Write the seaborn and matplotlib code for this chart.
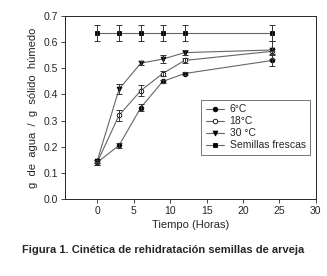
import numpy as np
import pandas as pd
import matplotlib
matplotlib.use("Agg")
import matplotlib.pyplot as plt
import seaborn as sns

# datos
horas = [0, 3, 6, 9, 12, 24]
t6 = [0.14, 0.205, 0.35, 0.45, 0.48, 0.53]
t6_err = [0.01, 0.01, 0.015, 0.006, 0.006, 0.02]
t18 = [0.14, 0.32, 0.415, 0.48, 0.53, 0.565]
t18_err = [0.01, 0.02, 0.02, 0.01, 0.01, 0.01]
t30 = [0.145, 0.42, 0.52, 0.535, 0.56, 0.57]
t30_err = [0.006, 0.02, 0.006, 0.015, 0.01, 0.035]
frescas = [0.635, 0.635, 0.635, 0.635, 0.635, 0.635]
frescas_err = [0.03, 0.03, 0.03, 0.03, 0.03, 0.03]

series = [
    ("6°C", t6, t6_err, "o", "black", 3.3),
    ("18°C", t18, t18_err, "o", "white", 3.3),
    ("30 °C", t30, t30_err, "v", "black", 3.5),
    ("Semillas frescas", frescas, frescas_err, "s", "black", 3.3),
]

sns.set_style("ticks")
plt.rcParams['font.family'] = ['Liberation Sans', 'DejaVu Sans']

fig = plt.figure(figsize=(3.27, 2.76), dpi=100)
ax = fig.add_axes([0.199, 0.279, 0.767, 0.663])

for label, vals, err, mk, fc, ms in series:
    df = pd.DataFrame({"Tiempo": horas, "valor": vals})
    sns.lineplot(data=df, x="Tiempo", y="valor", ax=ax, color="#666666", lw=0.8,
                 marker=mk, markersize=ms, markerfacecolor=fc, markeredgecolor="black",
                 markeredgewidth=0.6, label=label)
    ax.errorbar(horas, vals, yerr=err, fmt="none", ecolor="#333333", elinewidth=0.7,
                capsize=2.5, capthick=0.7)

ax.set_xlim(-4.4, 30)
ax.set_ylim(0, 0.7)
ax.set_xticks([0, 5, 10, 15, 20, 25, 30])
ax.set_yticks(np.arange(0, 0.71, 0.1))
ax.set_yticklabels([f"{v:.1f}" for v in np.arange(0, 0.71, 0.1)])
ax.tick_params(labelsize=7.5, length=3, width=0.6, pad=2)
for s in ax.spines.values():
    s.set_linewidth(0.7)
ax.set_xlabel("Tiempo (Horas)", fontsize=8, labelpad=3)
ax.set_ylabel("g  de  agua  /  g  sólido  húmedo", fontsize=8, labelpad=4)

leg = ax.legend(loc="upper right", bbox_to_anchor=(0.976, 0.541), fontsize=7.5,
                frameon=True, fancybox=False, edgecolor="#333333",
                handlelength=1.8, borderpad=0.4, labelspacing=0.2, handletextpad=0.5,
                borderaxespad=0)
leg.get_frame().set_linewidth(0.6)

fig.text(0.5, 0.095, "Figura 1. Cinética de rehidratación semillas de arveja",
         ha="center", va="center", fontsize=8, fontweight="bold")

fig.savefig("out.png", dpi=100)
